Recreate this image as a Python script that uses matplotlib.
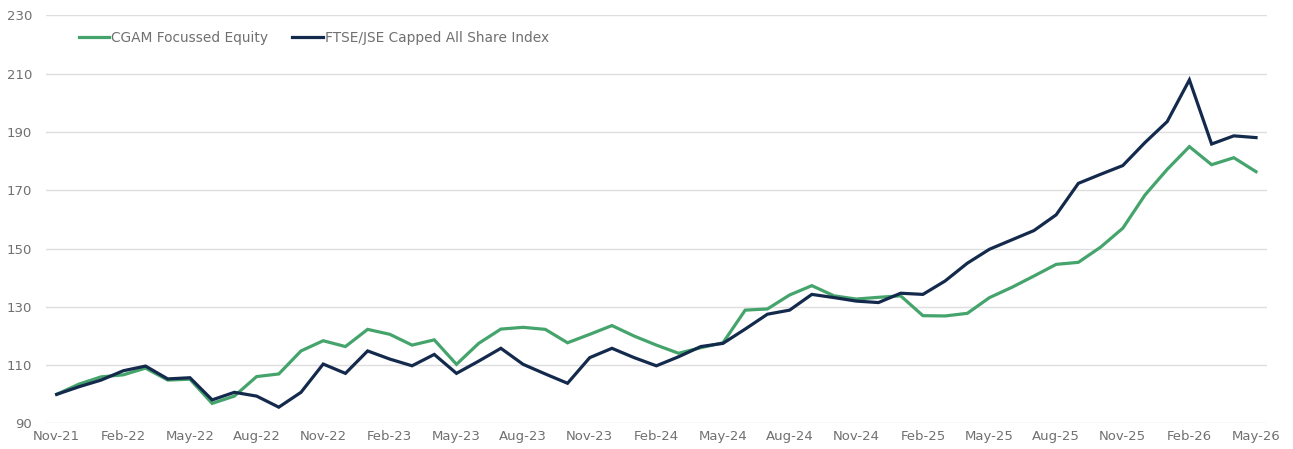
#!/usr/bin/env python3
import numpy as np
from matplotlib import pyplot as plt

# monthly index values, Nov-21 .. May-26
months = ['Nov-21', 'Dec-21', 'Jan-22', 'Feb-22', 'Mar-22', 'Apr-22', 'May-22', 'Jun-22', 'Jul-22',
          'Aug-22', 'Sep-22', 'Oct-22', 'Nov-22', 'Dec-22', 'Jan-23', 'Feb-23', 'Mar-23', 'Apr-23',
          'May-23', 'Jun-23', 'Jul-23', 'Aug-23', 'Sep-23', 'Oct-23', 'Nov-23', 'Dec-23', 'Jan-24',
          'Feb-24', 'Mar-24', 'Apr-24', 'May-24', 'Jun-24', 'Jul-24', 'Aug-24', 'Sep-24', 'Oct-24',
          'Nov-24', 'Dec-24', 'Jan-25', 'Feb-25', 'Mar-25', 'Apr-25', 'May-25', 'Jun-25', 'Jul-25',
          'Aug-25', 'Sep-25', 'Oct-25', 'Nov-25', 'Dec-25', 'Jan-26', 'Feb-26', 'Mar-26', 'Apr-26',
          'May-26']

cgam = [100, 103.5, 106, 106.7, 109, 104.9, 105.2, 96.9, 99.4,
        106.1, 107, 114.9, 118.4, 116.4, 122.3, 120.6, 116.9, 118.7,
        110.3, 117.5, 122.4, 123.0, 122.3, 117.7, 120.6, 123.6, 120,
        116.9, 114.1, 116, 117.7, 128.9, 129.3, 134.1, 137.3, 133.8,
        132.7, 133.3, 133.8, 127, 126.9, 127.8, 133.2, 136.7, 140.6,
        144.6, 145.3, 150.5, 157, 168.4, 177.2, 185, 178.8, 181.2,
        176.4]

ftse = [100, 102.6, 104.9, 108.1, 109.7, 105.3, 105.7, 98.1, 100.7,
        99.4, 95.6, 100.7, 110.4, 107.2, 114.9, 112.1, 109.8, 113.7,
        107.2, 111.4, 115.8, 110.3, 107, 103.8, 112.6, 115.8, 112.6,
        109.8, 112.9, 116.4, 117.5, 122.4, 127.5, 128.9, 134.3, 133.2,
        132, 131.5, 134.7, 134.3, 138.9, 145, 149.8, 153, 156.2,
        161.6, 172.4, 175.5, 178.5, 186.4, 193.6, 207.9, 185.9, 188.7,
        188.1]

yticks = [90, 110, 130, 150, 170, 190, 210, 230]

green = '#45a46c'
navy = '#142a4c'
grey = '#707070'

x = np.arange(len(months))

f = plt.figure(figsize=(12.93, 4.49), dpi=100)
ax = f.add_axes([0.0356, 0.0568, 0.9444, 0.9087])
ax.plot(x, cgam, color=green, lw=2.3, label='CGAM Focussed Equity', solid_joinstyle='miter')
ax.plot(x, ftse, color=navy, lw=2.3, label='FTSE/JSE Capped All Share Index', solid_joinstyle='miter')

ax.set_xlim(-0.48, 54.5)
ax.set_ylim(90, 230)
ax.set_yticks(yticks)
ax.set_xticks(x[::3])
ax.set_xticklabels(months[::3])
ax.grid(axis='y', color='#dedede', lw=1)
ax.set_axisbelow(True)
for s in ax.spines.values():
    s.set_visible(False)
ax.tick_params(length=0, labelsize=9.5, labelcolor=grey)
ax.tick_params(axis='y', pad=10)
ax.tick_params(axis='x', pad=5)

f.legend(loc='center left', bbox_to_anchor=(79/1293, 1-38/449), ncol=2, frameon=False,
         fontsize=9.9, labelcolor=grey, handlelength=2.2, handletextpad=0.15,
         columnspacing=1.75, borderpad=0, borderaxespad=0)

f.savefig('out.png')
